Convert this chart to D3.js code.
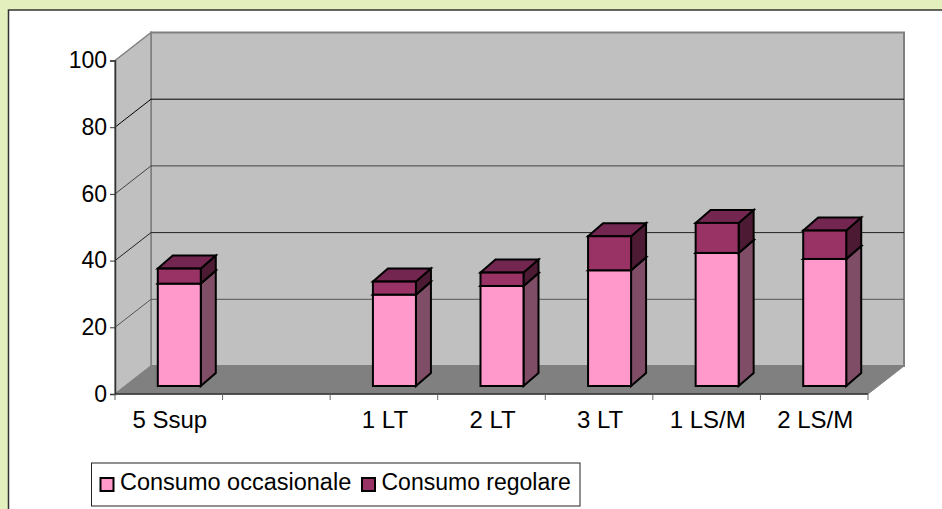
<!DOCTYPE html>
<html>
<head>
<meta charset="utf-8">
<script src="https://cdn.jsdelivr.net/npm/d3@7"></script>
<style>
html, body { margin: 0; padding: 0; background: #e3efbc; }
svg { display: block; }
text { font-family: "Liberation Sans", Arial, sans-serif; fill: #000; }
</style>
</head>
<body>
<div id="chart-area"></div>
<script>
var categories = ["5 Ssup", "", "1 LT", "2 LT", "3 LT", "1 LS/M", "2 LS/M"];
var occasionale = [30.7, null, 27.4, 30, 34.7, 39.9, 38.1];
var regolare = [4.5, null, 3.9, 4, 10.2, 9, 8.5];
var seriesNames = ["Consumo occasionale", "Consumo regolare"];
var yTicks = [0, 20, 40, 60, 80, 100];

var width = 942, height = 509;
var floorDepth = { x: 36, y: -28 };   // how far the back wall is pushed
var barDepth = { x: 15, y: -13 };
var barShift = { x: 11, y: -8 };      // bars stand a bit in from the front edge

var x = d3.scaleBand().domain(d3.range(categories.length)).range([115, 868]).paddingInner(0).paddingOuter(0);
var y = d3.scaleLinear().domain([0, 100]).range([394, 60.5]);

var svg = d3.select("#chart-area").append("svg")
	.attr("width", width)
	.attr("height", height);

svg.append("rect")
	.attr("x", 8.5).attr("y", 10)
	.attr("width", width).attr("height", height)
	.attr("fill", "#fff")
	.attr("stroke", "#333")
	.attr("stroke-width", 1.5);

var x0 = x.range()[0], x1 = x.range()[1], y0 = y(0), yTop = y(100);
var dx = floorDepth.x, dy = floorDepth.y;

function poly(pts) {
	return pts.map(function(p){ return p.join(","); }).join(" ");
}

// walls and floor
svg.append("polygon")
	.attr("points", poly([[x0 + dx, yTop + dy], [x1 + dx, yTop + dy], [x1 + dx, y0 + dy], [x0 + dx, y0 + dy]]))
	.attr("fill", "#c0c0c0").attr("stroke", "#808080").attr("stroke-width", 2);
svg.append("polygon")
	.attr("points", poly([[x0, yTop], [x0 + dx, yTop + dy], [x0 + dx, y0 + dy], [x0, y0]]))
	.attr("fill", "#c0c0c0").attr("stroke", "#808080").attr("stroke-width", 1.5);
svg.append("polygon")
	.attr("points", poly([[x0, y0], [x0 + dx, y0 + dy], [x1 + dx, y0 + dy], [x1, y0]]))
	.attr("fill", "#808080").attr("stroke", "#808080");

// gridlines, going round the side wall and along the back
var gridColors = { 20: "#555", 40: "#222", 60: "#444", 80: "#000" };
svg.selectAll(".grid")
	.data(yTicks.filter(function(d){ return d > 0 && d < 100; }))
	.enter().append("polyline")
		.attr("class", "grid")
		.attr("fill", "none")
		.attr("stroke", function(d){ return gridColors[d]; })
		.attr("stroke-width", 1)
		.attr("points", function(d){
			return poly([[x0, y(d)], [x0 + dx, y(d) + dy], [x1 + dx, y(d) + dy]]);
		});

// y axis
var yAxis = d3.axisLeft(y).tickValues(yTicks).tickSize(5).tickPadding(3);
var yG = svg.append("g").attr("transform", "translate(" + x0 + ",0)").call(yAxis);
yG.select(".domain").attr("stroke", "#333").attr("stroke-width", 1.5);
yG.selectAll("text").attr("font-size", "23px").attr("font-family", "Liberation Sans");
yG.selectAll("line").attr("stroke", "#333");

// x axis: labels from the band scale, ticks on the band edges
var xAxis = d3.axisBottom(x).tickSize(0).tickPadding(17).tickFormat(function(i){ return categories[i]; });
var xG = svg.append("g").attr("transform", "translate(1," + y0 + ")").call(xAxis);
xG.select(".domain").remove();
xG.selectAll("text").attr("font-size", "24px").attr("font-family", "Liberation Sans");

svg.append("line")
	.attr("x1", x0).attr("x2", x1).attr("y1", y0).attr("y2", y0)
	.attr("stroke", "#333").attr("stroke-width", 1.5);
svg.selectAll(".xtick")
	.data(d3.range(categories.length + 1))
	.enter().append("line")
		.attr("class", "xtick")
		.attr("x1", function(i){ return x0 + i * x.step(); })
		.attr("x2", function(i){ return x0 + i * x.step(); })
		.attr("y1", y0).attr("y2", y0 + 6)
		.attr("stroke", "#666").attr("stroke-width", 1);

// bars
var colors = [
	{ front: "#ff99cc", side: "#804d66", top: "#ff99cc" },
	{ front: "#993366", side: "#4d1a33", top: "#732650" }
];
var barW = 43;

function drawBox(g, i, low, high, c) {
	var bx = x(i) + barShift.x + (x.bandwidth() - barW) / 2 - 0.5;
	var by0 = y(low) + barShift.y, by1 = y(high) + barShift.y;
	var ddx = barDepth.x, ddy = barDepth.y;
	g.append("polygon")
		.attr("points", poly([[bx + barW, by0], [bx + barW + ddx, by0 + ddy], [bx + barW + ddx, by1 + ddy], [bx + barW, by1]]))
		.attr("fill", c.side);
	g.append("polygon")
		.attr("points", poly([[bx, by1], [bx + ddx, by1 + ddy], [bx + barW + ddx, by1 + ddy], [bx + barW, by1]]))
		.attr("fill", c.top);
	g.append("rect")
		.attr("x", bx).attr("y", by1)
		.attr("width", barW).attr("height", by0 - by1)
		.attr("fill", c.front);
}

var barsG = svg.append("g").attr("stroke", "#000").attr("stroke-width", 2);
categories.forEach(function(name, i) {
	if (occasionale[i] === null) return;
	var g = barsG.append("g");
	drawBox(g, i, 0, occasionale[i], colors[0]);
	drawBox(g, i, occasionale[i], occasionale[i] + regolare[i], colors[1]);
});

// legend
var legend = svg.append("g");
legend.append("rect")
	.attr("x", 91.5).attr("y", 463)
	.attr("width", 488.5).attr("height", 43)
	.attr("fill", "#fff").attr("stroke", "#222").attr("stroke-width", 1);
var legendX = [100.5, 362];
var legendFont = ["23.5px", "23px"];
seriesNames.forEach(function(name, i) {
	legend.append("rect")
		.attr("x", legendX[i]).attr("y", 478)
		.attr("width", 13).attr("height", 13)
		.attr("fill", colors[i].front).attr("stroke", "#000").attr("stroke-width", 2);
	legend.append("text")
		.attr("x", legendX[i] + 19.5).attr("y", 490)
		.attr("font-size", legendFont[i])
		.text(name);
});
</script>
</body>
</html>
